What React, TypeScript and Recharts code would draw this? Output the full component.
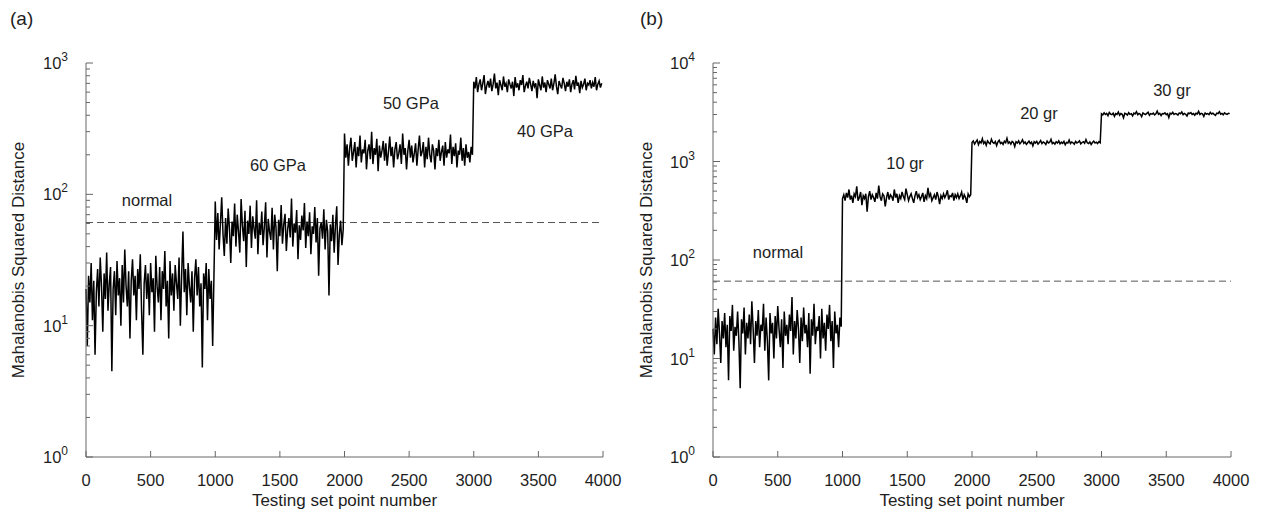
import React from 'react';
import { LineChart, Line, XAxis, YAxis, ReferenceLine, ReferenceDot } from 'recharts';

const FONT = '"Liberation Sans", Arial, Helvetica, sans-serif';

// point-number ticks shared by both panels
const pointTicks = [0, 500, 1000, 1500, 2000, 2500, 3000, 3500, 4000];
const decadesA = [1, 10, 100, 1000];
const decadesB = [1, 10, 100, 1000, 10000];
const threshold = 61;

// (a) modulus cases, ~every 10th testing point
const normalA = [19, 7, 24, 15, 30, 11, 22, 6, 18, 27, 14, 33, 20, 9, 25, 16, 36, 13, 21, 28, 4.5, 19, 26, 12, 31, 17, 23, 10, 29, 15, 38, 20, 14, 26, 8, 22, 32, 17, 24, 11, 27, 19, 35, 13, 6, 21, 29, 16, 25, 12, 30, 18, 23, 9, 34, 20, 15, 28, 11, 26, 19, 37, 14, 22, 8, 31, 17, 25, 13, 29, 21, 16, 33, 10, 24, 52, 18, 27, 12, 30, 20, 15, 26, 9, 23, 32, 17, 28, 14, 21, 4.8, 25, 19, 30, 11, 27, 16, 22, 7, 24];
const gpa60 = [88, 45, 72, 38, 60, 95, 50, 34, 66, 42, 78, 55, 30, 62, 48, 85, 40, 70, 52, 36, 92, 58, 44, 75, 28, 63, 50, 82, 39, 68, 55, 46, 90, 35, 61, 49, 74, 41, 57, 87, 33, 65, 52, 45, 79, 38, 70, 56, 26, 64, 48, 83, 42, 59, 71, 37, 54, 66, 47, 93, 40, 60, 51, 76, 32, 58, 45, 69, 53, 86, 39, 62, 48, 73, 35, 57, 50, 80, 43, 66, 24, 55, 61, 46, 77, 38, 64, 52, 17, 59, 44, 70, 36, 58, 81, 29, 50, 63, 41, 54];
const gpa50 = [290, 190, 240, 165, 225, 270, 180, 210, 250, 160, 230, 195, 280, 175, 220, 205, 260, 155, 215, 240, 185, 300, 170, 225, 200, 265, 150, 235, 190, 215, 255, 180, 245, 165, 210, 275, 195, 230, 160, 220, 250, 185, 205, 240, 170, 290, 200, 225, 155, 215, 260, 190, 235, 175, 205, 245, 165, 220, 280, 195, 210, 250, 160, 230, 185, 270, 200, 175, 240, 215, 155, 225, 195, 260, 180, 210, 235, 165, 250, 190, 220, 205, 285, 170, 230, 195, 245, 160, 215, 200, 270, 180, 225, 165, 240, 190, 210, 175, 230, 200];
const gpa40 = [720, 640, 780, 600, 690, 750, 620, 700, 810, 580, 670, 730, 650, 760, 610, 690, 830, 640, 710, 570, 740, 680, 620, 790, 660, 700, 600, 750, 690, 640, 720, 560, 780, 650, 700, 620, 740, 680, 810, 600, 670, 720, 640, 770, 690, 610, 730, 660, 700, 540, 750, 680, 620, 790, 650, 710, 600, 740, 690, 640, 760, 620, 700, 820, 660, 580, 730, 680, 640, 770, 700, 610, 720, 660, 750, 600, 690, 740, 630, 800, 670, 710, 590, 730, 650, 690, 760, 620, 700, 680, 740, 640, 710, 660, 780, 620, 690, 730, 650, 700];

// (b) mass cases
const normalB = [20, 11, 26, 14, 32, 18, 9, 24, 16, 29, 13, 22, 6, 27, 19, 35, 12, 21, 17, 30, 15, 5, 25, 18, 33, 11, 23, 16, 28, 14, 38, 20, 9, 24, 17, 31, 13, 22, 19, 36, 12, 26, 15, 6, 29, 18, 23, 10, 27, 16, 34, 20, 13, 25, 8, 30, 17, 22, 14, 28, 19, 42, 11, 24, 16, 31, 20, 9, 26, 15, 33, 18, 22, 13, 29, 7, 25, 17, 36, 14, 21, 19, 27, 10, 32, 16, 23, 12, 28, 20, 35, 15, 24, 8, 30, 18, 22, 13, 26, 21];
const gr10 = [420, 460, 400, 480, 430, 520, 410, 450, 380, 470, 440, 560, 400, 430, 490, 360, 450, 420, 470, 310, 440, 500, 410, 460, 430, 390, 480, 420, 570, 440, 400, 470, 450, 350, 430, 490, 410, 460, 440, 400, 520, 430, 470, 380, 450, 420, 490, 440, 410, 530, 460, 400, 440, 470, 420, 380, 450, 500, 430, 460, 410, 440, 480, 390, 450, 420, 540, 440, 470, 400, 430, 460, 410, 490, 440, 370, 450, 420, 470, 430, 460, 510, 410, 450, 440, 480, 400, 460, 430, 470, 420, 450, 490, 410, 460, 430, 380, 470, 440, 460];
const gr20 = [1560, 1620, 1500, 1580, 1650, 1480, 1600, 1540, 1700, 1520, 1590, 1460, 1620, 1550, 1510, 1680, 1570, 1530, 1600, 1450, 1580, 1640, 1520, 1560, 1490, 1610, 1550, 1720, 1530, 1580, 1500, 1600, 1560, 1420, 1590, 1540, 1620, 1510, 1570, 1660, 1530, 1580, 1490, 1550, 1610, 1520, 1570, 1440, 1590, 1540, 1600, 1500, 1560, 1630, 1520, 1580, 1550, 1490, 1610, 1540, 1570, 1680, 1520, 1560, 1500, 1590, 1540, 1620, 1510, 1570, 1530, 1600, 1480, 1560, 1540, 1650, 1520, 1580, 1550, 1500, 1600, 1540, 1570, 1620, 1510, 1560, 1590, 1530, 1670, 1550, 1520, 1580, 1490, 1560, 1610, 1540, 1570, 1520, 1590, 1550];
const gr30 = [3050, 2980, 3120, 3000, 3080, 2920, 3150, 3030, 2990, 3100, 2870, 3060, 3010, 3180, 2950, 3070, 3020, 2780, 3090, 3040, 2960, 3130, 3010, 3060, 2900, 3100, 3040, 3200, 2980, 3070, 3020, 2850, 3110, 3050, 2990, 3080, 3160, 2940, 3060, 3020, 3100, 2970, 3050, 3250, 3010, 3080, 2930, 3070, 3040, 3120, 2990, 3060, 2800, 3090, 3030, 3150, 3000, 3070, 3040, 2960, 3110, 3050, 3180, 2990, 3080, 3020, 2900, 3100, 3060, 3140, 3010, 3070, 2950, 3090, 3040, 3230, 3000, 3080, 3050, 2870, 3110, 3030, 3070, 2990, 3160, 3040, 3090, 3010, 2940, 3100, 3060, 3200, 3020, 3080, 2980, 3120, 3050, 3010, 3090, 3060];

const labelsA = ['normal', '60 GPa', '50 GPa', '40 GPa'];
const labelsB = ['normal', '10 gr', '20 gr', '30 gr'];

// each segment covers 1000 testing points
const toRows = (segments: number[][]) =>
  segments.flatMap((seg, s) => seg.map((v, i) => ({ x: s * 1000 + (i * 1000) / seg.length, v })));

const withMinors = (decades: number[]) => {
  const out: number[] = [];
  decades.forEach((d, i) => {
    if (i === decades.length - 1) { out.push(d); return; }
    for (let k = 1; k < 10; k++) out.push(d * k);
  });
  return out;
};

const AXIS = '#666';
const INK = '#1e1e1e';

type PanelProps = {
  tag: string;
  left: number;
  width: number;
  plotLeft: number;
  plotRight: number;
  titleX: number;
  rows: { x: number; v: number }[];
  decades: number[];
  notes: { text: string; x: number; y: number }[];
};

const PT = 63;
const PB = 457;
const H = 520;

function Panel({ tag, left, width, plotLeft, plotRight, titleX, rows, decades, notes }: PanelProps) {
  const yTicks = withMinors(decades);
  const yMax = decades[decades.length - 1];
  const isMajor = (v: number) => decades.includes(v);

  const leftTick = (p: any) => {
    const v = p.payload.value;
    const major = isMajor(v);
    const exp = Math.round(Math.log10(v));
    return (
      <g>
        <line x1={plotLeft} x2={plotLeft + (major ? 7 : 4)} y1={p.y} y2={p.y} stroke={AXIS} />
        {major && (
          <text x={plotLeft - 18} y={p.y + 6} textAnchor="end" fontFamily={FONT} fill={INK} fontSize={16.5}>
            10<tspan dy={-8} fontSize={12}>{exp}</tspan>
          </text>
        )}
      </g>
    );
  };
  const rightTick = (p: any) => {
    const major = isMajor(p.payload.value);
    return <line x1={plotRight} x2={plotRight - (major ? 7 : 4)} y1={p.y} y2={p.y} stroke={AXIS} />;
  };
  const bottomTick = (p: any) => (
    <g>
      <line x1={p.x} x2={p.x} y1={PB} y2={PB - 6} stroke={AXIS} />
      <text x={p.x} y={PB + 29} textAnchor="middle" fontFamily={FONT} fill={INK} fontSize={16.5}>
        {p.payload.value}
      </text>
    </g>
  );
  const topTick = (p: any) => <line x1={p.x} x2={p.x} y1={PT} y2={PT + 6} stroke={AXIS} />;

  return (
    <div style={{ position: 'absolute', left, top: 0, width, height: H }}>
      <div style={{ position: 'absolute', left: 10, top: 8, fontFamily: FONT, fontSize: 19, color: INK }}>{tag}</div>
      <LineChart
        width={width}
        height={H}
        data={rows}
        margin={{ top: PT, right: width - plotRight, bottom: 0, left: 0 }}
      >
        <XAxis
          xAxisId="b"
          dataKey="x"
          type="number"
          domain={[0, 4000]}
          ticks={pointTicks}
          interval={0}
          height={H - PB}
          axisLine={{ stroke: AXIS }}
          tickLine={false}
          tick={bottomTick}
          label={{ value: 'Testing set point number', position: 'insideBottom', offset: 14, fill: INK, fontSize: 17, fontFamily: FONT }}
        />
        <XAxis
          xAxisId="t"
          orientation="top"
          dataKey="x"
          type="number"
          domain={[0, 4000]}
          ticks={pointTicks}
          interval={0}
          height={0}
          axisLine={{ stroke: AXIS }}
          tickLine={false}
          tick={topTick}
        />
        <YAxis
          yAxisId="l"
          scale="log"
          domain={[1, yMax]}
          ticks={yTicks}
          interval={0}
          width={plotLeft}
          axisLine={{ stroke: AXIS }}
          tickLine={false}
          tick={leftTick}
          label={{ value: 'Mahalanobis Squared Distance', angle: -90, position: 'insideLeft', offset: titleX, fill: INK, fontSize: 17, fontFamily: FONT, style: { textAnchor: 'middle' } }}
        />
        <YAxis
          yAxisId="r"
          orientation="right"
          scale="log"
          domain={[1, yMax]}
          ticks={yTicks}
          interval={0}
          width={0}
          axisLine={{ stroke: AXIS }}
          tickLine={false}
          tick={rightTick}
        />
        <ReferenceLine xAxisId="b" yAxisId="l" y={threshold} stroke="#555" strokeDasharray="7 4" />
        <Line
          xAxisId="b"
          yAxisId="l"
          dataKey="v"
          stroke="#000"
          strokeWidth={1.5}
          dot={false}
          isAnimationActive={false}
        />
        {notes.map((n) => (
          <ReferenceDot
            key={n.text}
            xAxisId="b"
            yAxisId="l"
            x={n.x}
            y={n.y}
            r={0}
            fill="none"
            stroke="none"
            label={{ value: n.text, position: 'center', fill: INK, fontSize: 16.5, fontFamily: FONT }}
          />
        ))}
      </LineChart>
    </div>
  );
}

export default function App() {
  const rowsA = toRows([normalA, gpa60, gpa50, gpa40]);
  const rowsB = toRows([normalB, gr10, gr20, gr30]);
  const notesA = [
    { text: labelsA[0], x: 472, y: 90 },
    { text: labelsA[1], x: 1486, y: 167 },
    { text: labelsA[2], x: 2514, y: 496 },
    { text: labelsA[3], x: 3551, y: 303 },
  ];
  const notesB = [
    { text: labelsB[0], x: 502, y: 120 },
    { text: labelsB[1], x: 1483, y: 966 },
    { text: labelsB[2], x: 2517, y: 3107 },
    { text: labelsB[3], x: 3544, y: 5320 },
  ];
  return (
    <div style={{ position: 'absolute', left: 0, top: 0, width: 1261, height: 520, background: '#fff' }}>
      <Panel tag="(a)" left={0} width={630} plotLeft={86} plotRight={603} titleX={18} rows={rowsA} decades={decadesA} notes={notesA} />
      <Panel tag="(b)" left={630} width={631} plotLeft={83} plotRight={601} titleX={16} rows={rowsB} decades={decadesB} notes={notesB} />
    </div>
  );
}
